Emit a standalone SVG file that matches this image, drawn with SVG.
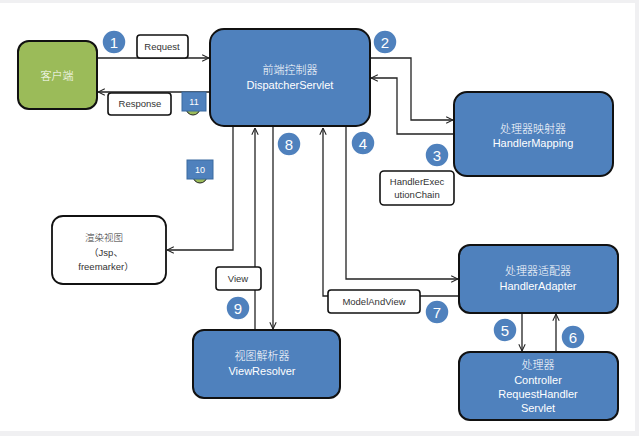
<svg xmlns="http://www.w3.org/2000/svg" width="639" height="436" viewBox="0 0 639 436">
<defs>
<marker id="arr" viewBox="0 0 10 10" refX="9.5" refY="5" markerWidth="8" markerHeight="8" markerUnits="userSpaceOnUse" orient="auto">
<path d="M1,1 L9.5,5 L1,9" fill="none" stroke="#222" stroke-width="1.3"/>
</marker>
</defs>
<style>
.blue{fill:#4F81BD;stroke:#111;stroke-width:2}
.green{fill:#9BBB59;stroke:#111;stroke-width:2}
.lbl{fill:#fff;stroke:#111;stroke-width:1.6}
.wt{fill:#fff;font-family:"Liberation Sans","Noto Sans CJK SC",sans-serif;font-size:11px;text-anchor:middle}
.bt{fill:#333;font-family:"Liberation Sans","Noto Sans CJK SC",sans-serif;font-size:9.5px;text-anchor:middle}
.cn{font-family:"Noto Sans CJK SC",sans-serif;font-weight:300}
.num circle{fill:#4F81BD;stroke:#fff;stroke-width:1.5}
.num text{fill:#fff;font-family:"Liberation Sans",sans-serif;font-size:15px;text-anchor:middle}
.sq rect{fill:#4F81BD;stroke:#3a6aa0;stroke-width:1}
.sq text{fill:#fff;font-family:"Liberation Sans",sans-serif;font-size:9px;text-anchor:middle}
.conn{fill:none;stroke:#222;stroke-width:1.3}
</style>
<rect x="0" y="0" width="639" height="436" fill="#f0f0f2"/>
<rect x="0" y="3" width="635" height="428" fill="#fff"/>

<g id="connectors">
<path class="conn" d="M97,58 H209" marker-end="url(#arr)"/>
<path class="conn" d="M210,92 H98" marker-end="url(#arr)"/>
<path class="conn" d="M370,58 H411 V120 H453" marker-end="url(#arr)"/>
<path class="conn" d="M454,134 H397 V78 H371" marker-end="url(#arr)"/>
<path class="conn" d="M233,127 V250 H167" marker-end="url(#arr)"/>
<path class="conn" d="M255,330 V128" marker-end="url(#arr)"/>
<path class="conn" d="M273,127 V329" marker-end="url(#arr)"/>
<path class="conn" d="M459,296 H323 V128" marker-end="url(#arr)"/>
<path class="conn" d="M346,127 V279 H458" marker-end="url(#arr)"/>
<path class="conn" d="M522,313 V351" marker-end="url(#arr)"/>
<path class="conn" d="M556,352 V314" marker-end="url(#arr)"/>
</g>

<g id="client">
<rect class="green" x="18" y="41" width="79" height="68" rx="11"/>
<text class="wt cn" x="57" y="80" font-size="12">客户端</text>
</g>

<g id="dispatcher">
<rect class="blue" x="210" y="29" width="160" height="97" rx="14"/>
<text class="wt cn" x="290" y="74">前端控制器</text>
<text class="wt" x="290" y="89">DispatcherServlet</text>
</g>

<g id="handlerMapping">
<rect class="blue" x="454" y="92" width="159" height="84" rx="13"/>
<text class="wt cn" x="533" y="133">处理器映射器</text>
<text class="wt" x="533" y="147">HandlerMapping</text>
</g>

<g id="handlerAdapter">
<rect class="blue" x="459" y="245" width="159" height="68" rx="11"/>
<text class="wt cn" x="538" y="275">处理器适配器</text>
<text class="wt" x="538" y="290">HandlerAdapter</text>
</g>

<g id="handler">
<rect class="blue" x="459" y="352" width="159" height="68" rx="11"/>
<text class="wt cn" x="538" y="369">处理器</text>
<text class="wt" x="538" y="384">Controller</text>
<text class="wt" x="538" y="398">RequestHandler</text>
<text class="wt" x="538" y="412">Servlet</text>
</g>

<g id="viewResolver">
<rect class="blue" x="193" y="330" width="147" height="68" rx="11"/>
<text class="wt cn" x="262" y="360">视图解析器</text>
<text class="wt" x="262" y="375">ViewResolver</text>
</g>

<g id="renderView">
<rect x="52" y="216" width="114" height="68" rx="11" fill="#fff" stroke="#111" stroke-width="1.8"/>
<text class="bt cn" x="104" y="241" font-size="11">渲染视图</text>
<text class="bt" x="106" y="256" font-size="10">（Jsp、</text>
<text class="bt" x="106" y="270" font-size="10">freemarker）</text>
</g>

<g id="request-label">
<rect class="lbl" x="137" y="35" width="51" height="23" rx="3"/>
<text class="bt" x="162" y="50">Request</text>
</g>
<g id="response-label">
<rect class="lbl" x="108" y="93" width="63" height="22" rx="3"/>
<text class="bt" x="140" y="107">Response</text>
</g>
<g id="hec-label">
<rect class="lbl" x="380" y="171" width="74" height="34" rx="4"/>
<text class="bt" x="417" y="185" font-size="9">HandlerExec</text>
<text class="bt" x="417" y="198" font-size="9">utionChain</text>
</g>
<g id="view-label">
<rect class="lbl" x="216" y="267" width="45" height="23" rx="3"/>
<text class="bt" x="238" y="282" font-size="9">View</text>
</g>
<g id="mav-label">
<rect class="lbl" x="328" y="290" width="92" height="23" rx="3"/>
<text class="bt" x="374" y="305" font-size="9">ModelAndView</text>
</g>

<g id="step11" class="sq">
<circle cx="193" cy="108" r="7" fill="#9BBB59" stroke="#222" stroke-width="1"/>
<rect x="182" y="92" width="24" height="19"/>
<text x="194" y="105">11</text>
</g>
<g id="step10" class="sq">
<circle cx="200" cy="176" r="7" fill="#9BBB59" stroke="#222" stroke-width="1"/>
<rect x="187" y="160" width="26" height="19"/>
<text x="200" y="173">10</text>
</g>

<g id="step1" class="num"><circle cx="114" cy="42" r="12"/><text x="114" y="47.5">1</text></g>
<g id="step2" class="num"><circle cx="385" cy="42" r="12"/><text x="385" y="47.5">2</text></g>
<g id="step3" class="num"><circle cx="437" cy="155" r="12"/><text x="437" y="160.5">3</text></g>
<g id="step4" class="num"><circle cx="363" cy="143" r="12"/><text x="363" y="148.5">4</text></g>
<g id="step5" class="num"><circle cx="505" cy="330" r="12"/><text x="505" y="335.5">5</text></g>
<g id="step6" class="num"><circle cx="573" cy="337" r="12"/><text x="573" y="342.5">6</text></g>
<g id="step7" class="num"><circle cx="437" cy="312" r="12"/><text x="437" y="317.5">7</text></g>
<g id="step8" class="num"><circle cx="289" cy="144" r="12"/><text x="289" y="149.5">8</text></g>
<g id="step9" class="num"><circle cx="238" cy="308" r="12"/><text x="238" y="313.5">9</text></g>
</svg>
